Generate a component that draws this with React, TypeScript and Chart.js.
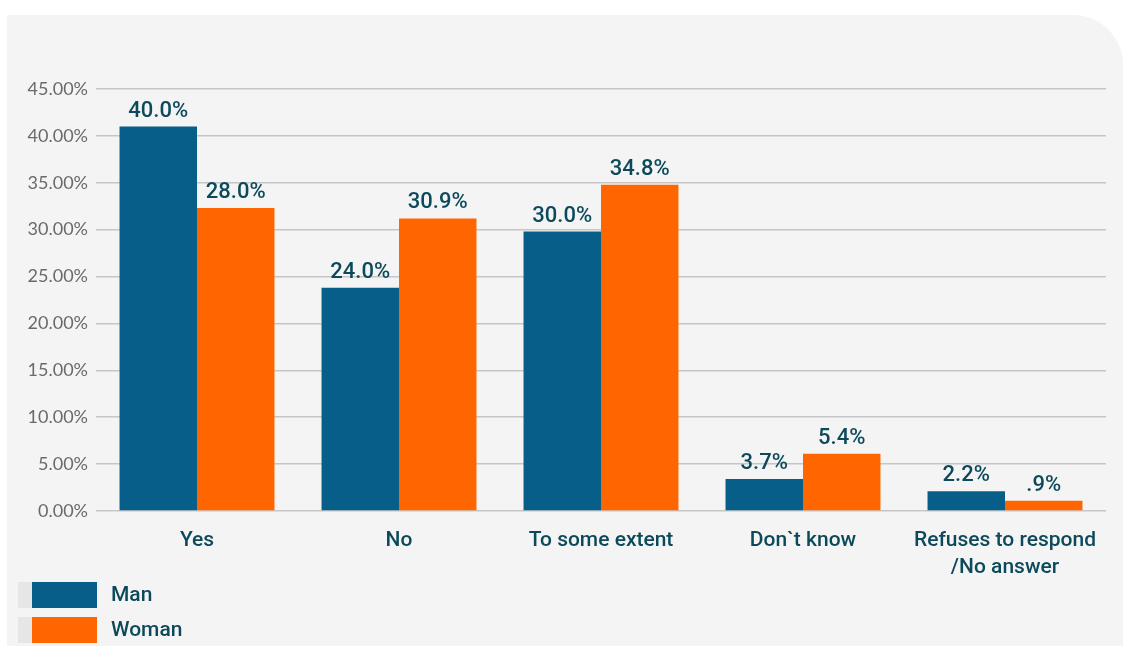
import React, { useEffect, useRef } from "react";
import { Chart, registerables } from "chart.js";

Chart.register(...registerables);

const categories: (string | string[])[] = [
  "Yes",
  "No",
  "To some extent",
  "Don`t know",
  ["Refuses to respond", "/No answer"],
];
const seriesNames = ["Man", "Woman"];
const manValues = [41.0, 23.8, 29.8, 3.4, 2.1];
const womanValues = [32.3, 31.2, 34.8, 6.1, 1.1];
const manLabels = ["40.0%", "24.0%", "30.0%", "3.7%", "2.2%"];
const womanLabels = ["28.0%", "30.9%", "34.8%", "5.4%", ".9%"];
const yTicks = [0, 5, 10, 15, 20, 25, 30, 35, 40, 45];

const MAN_COLOR = "#075f89";
const WOMAN_COLOR = "#ff6600";
const TEXT_DARK = "#0c4a5b";
const PANEL_W = 1116;
const PANEL_H = 631;

const dataLabelPlugin = {
  id: "dataLabels",
  afterDatasetsDraw(chart: any) {
    const ctx = chart.ctx;
    const allLabels = [manLabels, womanLabels];
    ctx.save();
    ctx.font = "500 22px Roboto";
    ctx.fillStyle = TEXT_DARK;
    ctx.textAlign = "center";
    ctx.textBaseline = "alphabetic";
    chart.data.datasets.forEach((_ds: any, di: number) => {
      const meta = chart.getDatasetMeta(di);
      meta.data.forEach((el: any, i: number) => {
        ctx.fillText(allLabels[di][i], el.x, el.y - 10);
      });
    });
    ctx.restore();
  },
};

const legendPlugin = {
  id: "customLegend",
  afterDraw(chart: any) {
    const ctx = chart.ctx;
    ctx.save();
    chart.data.datasets.forEach((ds: any, i: number) => {
      const y = 567 + i * 35;
      ctx.fillStyle = "#e6e6e6";
      ctx.fillRect(11, y, 14, 26);
      ctx.fillStyle = ds.backgroundColor;
      ctx.fillRect(25, y, 65, 26);
      ctx.fillStyle = TEXT_DARK;
      ctx.font = "500 21px Roboto";
      ctx.textAlign = "left";
      ctx.textBaseline = "middle";
      ctx.fillText(ds.label, 104, y + 14);
    });
    ctx.restore();
  },
};

export default function App() {
  const canvasRef = useRef<HTMLCanvasElement | null>(null);

  useEffect(() => {
    if (!canvasRef.current) return;
    const chart = new Chart(canvasRef.current, {
      type: "bar",
      data: {
        labels: categories,
        datasets: [
          {
            label: seriesNames[0],
            data: manValues,
            backgroundColor: MAN_COLOR,
            barPercentage: 1,
            categoryPercentage: 0.767,
          },
          {
            label: seriesNames[1],
            data: womanValues,
            backgroundColor: WOMAN_COLOR,
            barPercentage: 1,
            categoryPercentage: 0.767,
          },
        ],
      },
      options: {
        animation: false,
        responsive: false,
        devicePixelRatio: 1,
        layout: { padding: { left: 0, top: 74, right: 17, bottom: 0 } },
        plugins: {
          legend: { display: false },
          tooltip: { enabled: false },
        },
        scales: {
          x: {
            grid: { display: false, drawTicks: false },
            border: { display: false },
            ticks: {
              color: TEXT_DARK,
              font: { family: "Roboto", size: 21, weight: "500", lineHeight: 1.25 },
              padding: 17,
              maxRotation: 0,
              autoSkip: false,
            },
            afterFit(scale: any) {
              scale.height = 135;
            },
          },
          y: {
            min: 0,
            max: 45,
            afterBuildTicks(scale: any) {
              scale.ticks = yTicks.map((v) => ({ value: v }));
            },
            grid: { color: "#c6c6c6", lineWidth: 1.5, drawTicks: false },
            border: { display: false },
            ticks: {
              color: "#6a6a6a",
              font: { family: "Lato", size: 18 },
              padding: 8,
              callback: (v: any) => Number(v).toFixed(2) + "%",
            },
            afterFit(scale: any) {
              scale.width = 89;
            },
          },
        },
      },
      plugins: [dataLabelPlugin, legendPlugin],
    });
    return () => chart.destroy();
  }, []);

  return (
    <div
      style={{
        position: "absolute",
        left: 0,
        top: 0,
        width: 1123,
        height: 646,
        background: "#ffffff",
        overflow: "hidden",
      }}
    >
      <div
        style={{
          position: "absolute",
          left: 7,
          top: 15,
          width: PANEL_W,
          height: PANEL_H,
          background: "#f4f4f4",
          borderTopRightRadius: 50,
        }}
      >
        <canvas ref={canvasRef} width={PANEL_W} height={PANEL_H} style={{ display: "block" }} />
      </div>
    </div>
  );
}
